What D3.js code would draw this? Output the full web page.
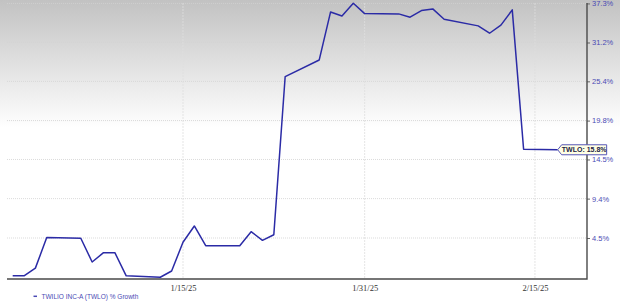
<!DOCTYPE html>
<html>
<head>
<meta charset="utf-8">
<script src="https://cdn.jsdelivr.net/npm/d3@7"></script>
<style>
  body { margin: 0; background: #fff; }
  svg { display: block; }
</style>
</head>
<body>
<svg id="chart"></svg>
<script>
// % growth of TWLO, one value per trading day
const dates = [
  "2024-12-31", "2025-01-01", "2025-01-02", "2025-01-03", "2025-01-06",
  "2025-01-07", "2025-01-08", "2025-01-09", "2025-01-10", "2025-01-13",
  "2025-01-14", "2025-01-15", "2025-01-16", "2025-01-17", "2025-01-20",
  "2025-01-21", "2025-01-22", "2025-01-23", "2025-01-24", "2025-01-27",
  "2025-01-28", "2025-01-29", "2025-01-30", "2025-01-31", "2025-02-03",
  "2025-02-04", "2025-02-05", "2025-02-06", "2025-02-07", "2025-02-10",
  "2025-02-11", "2025-02-12", "2025-02-13", "2025-02-14", "2025-02-17"
];
const growth = [
  0.0, 0.0, 0.9, 4.55, 4.47,
  1.62, 2.73, 2.73, 0.0, -0.17,
  0.56, 3.98, 5.97, 3.57, 3.57,
  5.27, 4.22, 4.9, 26.1, 28.56,
  35.95, 35.32, 37.34, 35.69, 35.64,
  35.12, 36.16, 36.43, 34.8, 33.76,
  32.62, 33.87, 36.27, 15.87, 15.8
];
const yTicks = [4.5, 9.4, 14.5, 19.8, 25.4, 31.2, 37.3];
const xTicks = ["2025-01-15", "2025-01-31", "2025-02-15"];
const seriesName = "TWILIO INC-A (TWLO) % Growth";
const tagLabel = "TWLO: 15.8%";

const width = 620, height = 305;
const margin = { top: 3, right: 33, bottom: 26, left: 7 };

const parse = d3.utcParse("%Y-%m-%d");
const data = dates.map((d, i) => ({ date: parse(d), value: growth[i] }));

const svg = d3.select("#chart")
  .attr("width", width)
  .attr("height", height)
  .attr("viewBox", [0, 0, width, height]);

// background fade, grey at top to white
const grad = svg.append("defs").append("linearGradient")
  .attr("id", "bg")
  .attr("x1", 0).attr("y1", 0).attr("x2", 0).attr("y2", 1);
grad.append("stop").attr("offset", "0%").attr("stop-color", "#c2c2c2");
grad.append("stop").attr("offset", "42%").attr("stop-color", "#ffffff");
grad.append("stop").attr("offset", "100%").attr("stop-color", "#ffffff");
svg.append("rect")
  .attr("width", width).attr("height", height)
  .attr("fill", "url(#bg)");

const x = d3.scaleUtc()
  .domain([new Date(Date.UTC(2024, 11, 30, 12)), new Date(Date.UTC(2025, 1, 19, 14))])
  .range([margin.left, width - margin.right]);

// growth axis is logarithmic on (1 + g)
const y = d3.scaleLog()
  .domain([0.9963, 1.3737])
  .range([height - margin.bottom, margin.top]);

const yv = g => y(1 + g / 100);

// grid
svg.append("g")
  .selectAll("line")
  .data(yTicks)
  .join("line")
  .attr("x1", margin.left)
  .attr("x2", width - margin.right)
  .attr("y1", d => yv(d))
  .attr("y2", d => yv(d))
  .attr("stroke", "#d2d2d2")
  .attr("stroke-width", 0.8)
  .attr("stroke-dasharray", "1,1");

svg.append("g")
  .selectAll("line")
  .data(xTicks.map(parse))
  .join("line")
  .attr("x1", d => x(d))
  .attr("x2", d => x(d))
  .attr("y1", margin.top)
  .attr("y2", height - margin.bottom)
  .attr("stroke", "#dedede")
  .attr("stroke-width", 0.8)
  .attr("stroke-dasharray", "2,1");

// axes
const xAxis = g => g
  .attr("transform", `translate(0,${height - margin.bottom})`)
  .call(d3.axisBottom(x)
    .tickValues(xTicks.map(parse))
    .tickFormat(d3.utcFormat("%-m/%-d/%y"))
    .tickSize(0)
    .tickPadding(6))
  .call(g => g.select(".domain").remove())
  .call(g => g.selectAll("text")
    .attr("fill", "#333")
    .attr("font-family", "'Liberation Serif', serif")
    .attr("font-size", 8.5));

const yAxis = g => g
  .attr("transform", `translate(${width - margin.right},0)`)
  .call(d3.axisRight(y)
    .tickValues(yTicks.map(d => 1 + d / 100))
    .tickFormat((d, i) => yTicks[i] + "%")
    .tickSize(3)
    .tickPadding(2))
  .call(g => g.select(".domain").remove())
  .call(g => g.selectAll(".tick line").attr("stroke", "#666"))
  .call(g => g.selectAll("text")
    .attr("fill", "#4a4ab4")
    .attr("font-family", "'Liberation Sans', Arial, sans-serif")
    .attr("font-size", 7.5));

svg.append("g").call(xAxis);
svg.append("g").call(yAxis);

// frame lines: bottom and right
svg.append("path")
  .attr("d", `M${margin.left},${height - margin.bottom}H${width - margin.right}V${margin.top}`)
  .attr("fill", "none")
  .attr("stroke", "#4a4a4a")
  .attr("stroke-width", 1.4);

// series line
const line = d3.line()
  .x(d => x(d.date))
  .y(d => yv(d.value));

svg.append("path")
  .datum(data)
  .attr("fill", "none")
  .attr("stroke", "#2b2ba6")
  .attr("stroke-width", 1.5)
  .attr("stroke-linejoin", "round")
  .attr("d", line);

// last value tag
const last = data[data.length - 1];
const tx = x(last.date), ty = yv(last.value);
const tagW = 49, tagH = 10;
const tag = svg.append("g").attr("transform", `translate(${tx},${ty})`);
tag.append("path")
  .attr("d", `M0,0L4,${-tagH / 2}H${tagW}V${tagH / 2}H4Z`)
  .attr("fill", "#ffffe4")
  .attr("stroke", "#5656b8")
  .attr("stroke-width", 1);
tag.append("text")
  .attr("x", 4 + (tagW - 4) / 2)
  .attr("y", 2.5)
  .attr("text-anchor", "middle")
  .attr("font-family", "'Liberation Sans', Arial, sans-serif")
  .attr("font-size", 7)
  .attr("font-weight", "bold")
  .attr("fill", "#222244")
  .text(tagLabel);

// legend
const legend = svg.append("g").attr("transform", `translate(33.5,${height - 8.7})`);
legend.append("line")
  .attr("x1", 0).attr("x2", 3.5)
  .attr("stroke", "#4a4ab4")
  .attr("stroke-width", 1.5);
legend.append("text")
  .attr("x", 8)
  .attr("y", 2.3)
  .attr("font-family", "'Liberation Sans', Arial, sans-serif")
  .attr("font-size", 6.5)
  .attr("fill", "#4a4ab4")
  .text(seriesName);
</script>
</body>
</html>
